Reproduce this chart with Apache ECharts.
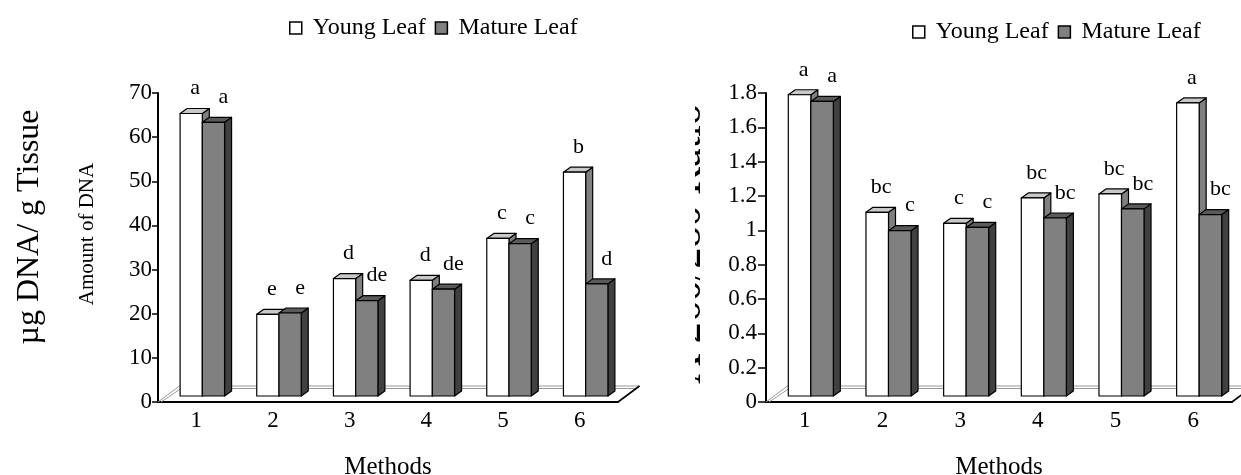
<!DOCTYPE html>
<html>
<head>
<meta charset="utf-8">
<script src="https://cdn.jsdelivr.net/npm/echarts@6/dist/echarts.min.js"></script>
<style>
html,body{margin:0;padding:0;background:#fff;}
#main{width:1241px;height:475px;}
</style>
</head>
<body>
<div id="main"></div>
<script>
// methods on the x axis
var methods = ['1', '2', '3', '4', '5', '6'];

// left chart: amount of DNA
var dnaYoung = [64.0, 18.5, 26.6, 26.2, 35.7, 50.7];
var dnaMature = [62.0, 18.8, 21.6, 24.2, 34.5, 25.4];
var dnaYoungSig = ['a', 'e', 'd', 'd', 'c', 'b'];
var dnaMatureSig = ['a', 'e', 'de', 'de', 'c', 'd'];
var dnaTicks = [0, 70, 10]; // min, max, step

// right chart: A260/280 ratio
var ratioYoung = [1.755, 1.07, 1.006, 1.154, 1.177, 1.707];
var ratioMature = [1.716, 0.963, 0.982, 1.037, 1.09, 1.057];
var ratioYoungSig = ['a', 'bc', 'c', 'bc', 'bc', 'a'];
var ratioMatureSig = ['a', 'c', 'c', 'bc', 'bc', 'bc'];
var ratioTicks = [0, 1.8, 0.2];

var FONT = 'Liberation Serif';
var g1 = {left: 158, top: 93, width: 460, height: 309, outerBoundsMode: 'none'};
var g2 = {left: 766, top: 93, width: 466, height: 309, outerBoundsMode: 'none'};
var SHIFT = [6, -6];   // bars sit a bit behind the axis line
var DEPTH = [7, -5];   // 3d depth of each bar
var FLOOR = [21.5, -16];

var youngFaces = {front: '#ffffff', top: '#c8c8c8', side: '#808080'};
var matureFaces = {front: '#808080', top: '#5a5a5a', side: '#404040'};

function bar3d(isMature, sigs, faces) {
	return function(params, api) {
		var i = api.value(0), v = api.value(1);
		var w = api.size([1, 0])[0] * 0.29;
		var c0 = api.coord([i, 0]), c1 = api.coord([i, v]);
		var x0 = c0[0] + SHIFT[0] - (isMature ? 0 : w);
		var x1 = x0 + w;
		var yb = c0[1] + SHIFT[1], yt = c1[1] + SHIFT[1];
		var dx = DEPTH[0], dy = DEPTH[1];
		var ln = {stroke: '#000', lineWidth: 1.2, lineJoin: 'round'};
		return {
			type: 'group',
			children: [
				{type: 'polygon', shape: {points: [[x1, yb], [x1 + dx, yb + dy], [x1 + dx, yt + dy], [x1, yt]]},
					style: Object.assign({fill: faces.side}, ln)},
				{type: 'polygon', shape: {points: [[x0, yt], [x0 + dx, yt + dy], [x1 + dx, yt + dy], [x1, yt]]},
					style: Object.assign({fill: faces.top}, ln)},
				{type: 'rect', shape: {x: x0, y: yt, width: w, height: yb - yt},
					style: Object.assign({fill: faces.front}, ln)},
				{type: 'text', style: {text: sigs[i], x: (x0 + x1) / 2 + (isMature ? 10 : 4), y: yt - 25,
					fill: '#000', fontSize: 22, fontFamily: FONT, align: 'center', verticalAlign: 'middle'}}
			]
		};
	};
}

function pairs(arr) {
	return arr.map(function(v, i) { return [i, v]; });
}

function floor(g) {
	var x0 = g.left, y0 = g.top + g.height, x1 = g.left + g.width;
	var gray = {stroke: '#999', lineWidth: 1, fill: null};
	return [
		{type: 'polyline', z: 1, shape: {points: [[x0, y0], [x0 + FLOOR[0], y0 + FLOOR[1]], [x1 + FLOOR[0], y0 + FLOOR[1]]]}, style: gray},
		{type: 'polyline', z: 1, shape: {points: [[x0 + 3, y0], [x0 + FLOOR[0] + 1.5, y0 + FLOOR[1] + 2.5], [x1 + FLOOR[0] - 3, y0 + FLOOR[1] + 2.5]]}, style: gray},
		{type: 'line', z: 1, shape: {x1: x1, y1: y0, x2: x1 + FLOOR[0], y2: y0 + FLOOR[1]}, style: {stroke: '#000', lineWidth: 1.6}}
	];
}

function xAx(idx) {
	return {
		gridIndex: idx, type: 'category', data: methods,
		axisLine: {lineStyle: {color: '#000', width: 2}},
		axisTick: {length: 5, lineStyle: {color: '#000', width: 1.5}},
		axisLabel: {fontSize: 23, fontFamily: FONT, color: '#000', margin: 7},
		name: 'Methods', nameLocation: 'middle', nameGap: 53,
		nameTextStyle: {fontSize: 25, fontFamily: FONT, color: '#000'}
	};
}

function yAx(idx, t, margin, tickLen) {
	return {
		gridIndex: idx, type: 'value', min: t[0], max: t[1], interval: t[2],
		axisLine: {show: true, lineStyle: {color: '#000', width: 2}},
		axisTick: {show: true, length: tickLen, lineStyle: {color: '#000', width: 1.5}},
		splitLine: {show: false},
		axisLabel: {fontSize: 23, fontFamily: FONT, color: '#000', margin: margin}
	};
}

function legendAt(left, top) {
	return {
		left: left, top: top, icon: 'rect', itemWidth: 12, itemHeight: 12, itemGap: 9,
		selectedMode: false,
		textStyle: {fontSize: 24, fontFamily: FONT, color: '#000', padding: [0, 0, 0, 6]},
		data: [
			{name: 'Young Leaf', itemStyle: {color: '#fff', borderColor: '#000', borderWidth: 1.5}},
			{name: 'Mature Leaf', itemStyle: {color: '#808080', borderColor: '#000', borderWidth: 1.5}}
		]
	};
}

var myChart = echarts.init(document.getElementById('main'), null, {renderer: 'canvas'});
var option = {
	animation: false,
	textStyle: {fontFamily: FONT},
	legend: [legendAt(284, 11), legendAt(907, 15)],
	grid: [g1, g2],
	xAxis: [xAx(0), xAx(1)],
	yAxis: [yAx(0, dnaTicks, 6, 6), yAx(1, ratioTicks, 9, 8)],
	series: [
		{type: 'custom', name: 'Young Leaf', xAxisIndex: 0, yAxisIndex: 0, encode: {x: 0, y: 1},
			itemStyle: {color: '#fff'}, data: pairs(dnaYoung), renderItem: bar3d(false, dnaYoungSig, youngFaces)},
		{type: 'custom', name: 'Mature Leaf', xAxisIndex: 0, yAxisIndex: 0, encode: {x: 0, y: 1},
			itemStyle: {color: '#808080'}, data: pairs(dnaMature), renderItem: bar3d(true, dnaMatureSig, matureFaces)},
		{type: 'custom', name: 'Young Leaf', xAxisIndex: 1, yAxisIndex: 1, encode: {x: 0, y: 1},
			itemStyle: {color: '#fff'}, data: pairs(ratioYoung), renderItem: bar3d(false, ratioYoungSig, youngFaces)},
		{type: 'custom', name: 'Mature Leaf', xAxisIndex: 1, yAxisIndex: 1, encode: {x: 0, y: 1},
			itemStyle: {color: '#808080'}, data: pairs(ratioMature), renderItem: bar3d(true, ratioMatureSig, matureFaces)}
	],
	graphic: floor(g1).concat(floor(g2)).concat([
		{type: 'text', x: 30, y: 227, rotation: Math.PI / 2,
			style: {text: 'µg DNA/ g Tissue', fontSize: 32, fontFamily: FONT, fill: '#000', align: 'center', verticalAlign: 'middle'}},
		{type: 'text', x: 87, y: 234, rotation: Math.PI / 2,
			style: {text: 'Amount of DNA', fontSize: 21, fontFamily: FONT, fill: '#000', align: 'center', verticalAlign: 'middle'}},
		// right title is cut off in the original, only its lower edge shows
		{type: 'text', z: 99, x: 689, y: 244, rotation: Math.PI / 2,
			style: {text: 'A 260/280 Ratio', fontSize: 42, fontFamily: FONT, fill: '#000', align: 'center', verticalAlign: 'middle'}},
		{type: 'rect', z: 100, shape: {x: 645, y: 60, width: 50, height: 360}, style: {fill: '#fff'}}
	])
};
myChart.setOption(option);
</script>
</body>
</html>
